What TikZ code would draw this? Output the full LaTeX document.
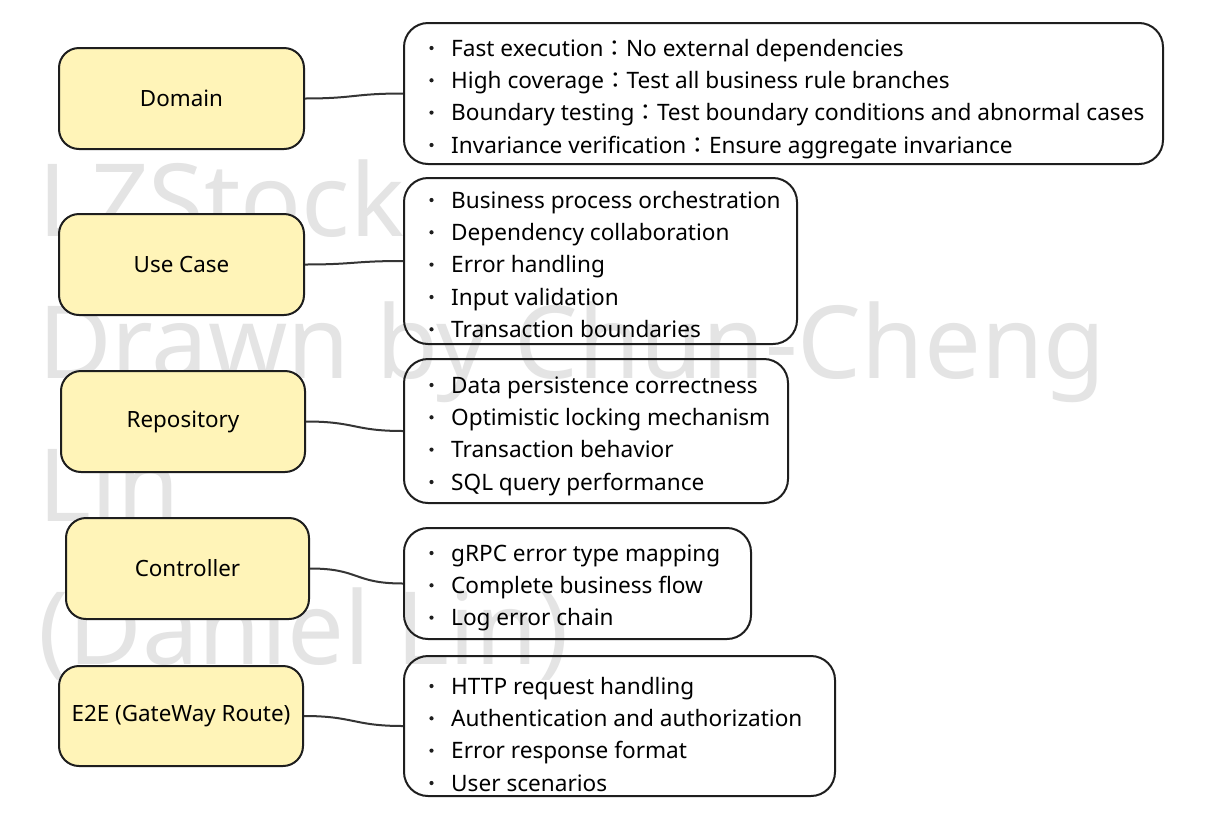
\documentclass[tikz,border=0pt]{standalone}
\usepackage{fontspec}
\setmainfont{Noto Sans}
\newfontfamily\cjk{Noto Sans CJK TC}
\definecolor{boxyellow}{RGB}{255,244,184}
\definecolor{edge}{RGB}{30,30,30}
\definecolor{wm}{RGB}{228,228,228}
\newcommand{\fw}{{\cjk：}}
\begin{document}
\begin{tikzpicture}[x=1pt,y=-1pt,
  ybox/.style={draw=edge, line width=2pt, fill=boxyellow, rounded corners=20pt,
     inner sep=0pt, font=\fontsize{22.4}{26}\selectfont, text=black},
  rbox/.style={draw=edge, line width=2pt, rounded corners=24pt, inner sep=0pt},
  item/.style={anchor=base west, inner sep=0pt, font=\fontsize{22.6}{26}\selectfont, text=black},
  wmark/.style={anchor=base west, inner sep=0pt, font=\fontsize{101}{120}\selectfont, text=wm},
  link/.style={draw=edge!90, line width=2pt}]
\useasboundingbox[fill=white] (0,0) rectangle (1207,828);
% watermark
\node[wmark] (w1) at (38,236) {LZStock};
\node[wmark] (w2) at (38,378) {Drawn by Chun-Cheng};
\node[wmark] (w3) at (38,521) {Lin};
\node[wmark] (w4) at (38,664) {(Daniel Lin)};
% left boxes
\node[ybox, minimum width=245pt, minimum height=101pt] (dom) at (181.5,98.5) {Domain};
\node[ybox, minimum width=245pt, minimum height=101pt] (uc) at (181.5,264.5) {Use Case};
\node[ybox, minimum width=244pt, minimum height=101pt] (repo) at (183,421.5) {Repository};
\node[ybox, minimum width=243pt, minimum height=101pt] (ctl) at (187.5,568.5) {Controller};
\node[ybox, minimum width=244pt, minimum height=100pt] (e2e) at (181,716) {E2E (GateWay Route)};
% right boxes
\node[rbox, minimum width=759pt, minimum height=141pt] (r1) at (783.5,93.5) {};
\node[rbox, minimum width=393pt, minimum height=166pt] (r2) at (600.5,261) {};
\node[rbox, minimum width=384pt, minimum height=144pt] (r3) at (596,431) {};
\node[rbox, minimum width=347pt, minimum height=111pt] (r4) at (577.5,583.5) {};
\node[rbox, minimum width=431pt, minimum height=140pt] (r5) at (619.5,726) {};
% box 1 items
\node[item] (r1a) at (451,56) {Fast execution\fw No external dependencies};
\node[item] (r1b) at (451,88.3) {High coverage\fw Test all business rule branches};
\node[item] (r1c) at (451,120.6) {Boundary testing\fw Test boundary conditions and abnormal cases};
\node[item] (r1d) at (451,153) {Invariance verification\fw Ensure aggregate invariance};
% box 2 items
\node[item] (r2a) at (451,208) {Business process orchestration};
\node[item] (r2b) at (451,240.3) {Dependency collaboration};
\node[item] (r2c) at (451,272.6) {Error handling};
\node[item] (r2d) at (451,305) {Input validation};
\node[item] (r2e) at (451,337.3) {Transaction boundaries};
% box 3 items
\node[item] (r3a) at (451,393) {Data persistence correctness};
\node[item] (r3b) at (451,425.3) {Optimistic locking mechanism};
\node[item] (r3c) at (451,457.6) {Transaction behavior};
\node[item] (r3d) at (451,490) {SQL query performance};
% box 4 items
\node[item] (r4a) at (451,561) {gRPC error type mapping};
\node[item] (r4b) at (451,593.3) {Complete business flow};
\node[item] (r4c) at (451,625.6) {Log error chain};
% box 5 items
\node[item] (r5a) at (451,694) {HTTP request handling};
\node[item] (r5b) at (451,726.3) {Authentication and authorization};
\node[item] (r5c) at (451,758.6) {Error response format};
\node[item] (r5d) at (451,791) {User scenarios};
% bullets
\foreach \y in {48,80.3,112.6,145,200,232.3,264.6,297,329.3,385,417.3,449.6,482,553,585.3,617.6,686,718.3,750.6,783}
  \fill[edge] (431.5,\y) circle (2.1pt);
% connectors
\foreach \a/\b in {dom/r1, uc/r2, repo/r3, ctl/r4, e2e/r5}
  \draw[link] (\a.east) .. controls ([xshift=50pt]\a.east) and ([xshift=-50pt]\b.west) .. (\b.west);
\end{tikzpicture}
\end{document}
